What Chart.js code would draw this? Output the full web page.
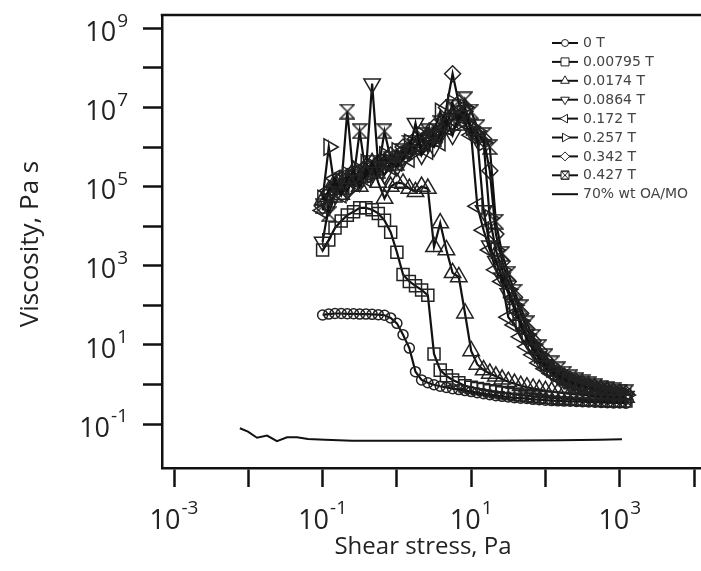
<!DOCTYPE html>
<html>
<head>
<meta charset="utf-8">
<script src="https://cdn.jsdelivr.net/npm/chart.js@4.4.1/dist/chart.umd.min.js"></script>
<style>
  html, body { margin: 0; padding: 0; background: #fff; overflow: hidden; }
  #parent__visc { position: relative; width: 701px; height: 571px; }
  #visc__chart { display: block; }
</style>
</head>
<body>
<div id="parent__visc"><canvas id="visc__chart"></canvas></div>
<script>
// shear stress (Pa) used by every field series
const stress = [0.1, 0.121, 0.147, 0.178, 0.215, 0.261, 0.316, 0.383, 0.464, 0.562,
  0.681, 0.825, 1.0, 1.21, 1.47, 1.78, 2.15, 2.61, 3.16, 3.83,
  4.64, 5.62, 6.81, 8.25, 10, 12.1, 14.7, 17.8, 21.5, 26.1,
  31.6, 38.3, 46.4, 56.2, 68.1, 82.5, 100, 121, 147, 178,
  215, 261, 316, 383, 464, 562, 681, 825, 1000, 1210]

// viscosity (Pa s) for each magnetic field
const visc0T = [57, 60, 62, 62, 61, 61, 60, 60, 59, 58,
  56, 48, 35, 18, 8.3, 2.1, 1.3, 1.1, 0.98, 0.9,
  0.84, 0.78, 0.74, 0.7, 0.66, 0.62, 0.58, 0.55, 0.52, 0.5,
  0.48, 0.46, 0.45, 0.44, 0.42, 0.41, 0.40, 0.39, 0.385, 0.38,
  0.375, 0.37, 0.365, 0.36, 0.355, 0.35, 0.345, 0.34, 0.34, 0.335]
const visc00795T = [2500, 4500, 9000, 13500, 19000, 23000, 29000, 29000, 26000, 21000,
  14000, 7000, 2200, 600, 400, 310, 245, 180, 5.9, 2.3,
  1.65, 1.3, 1.1, 0.92, 0.85, 0.79, 0.74, 0.69, 0.65, 0.62,
  0.59, 0.56, 0.54, 0.52, 0.50, 0.48, 0.47, 0.46, 0.45, 0.44,
  0.43, 0.42, 0.41, 0.405, 0.40, 0.395, 0.39, 0.385, 0.38, 0.38]
const visc0174T = [45000, 79000, 126000, 63000, 160000, 250000, 100000, 200000, 400000, 126000,
  50000, 100000, 126000, 120000, 89000, 74000, 100000, 89000, 3000, 12000,
  2500, 660, 520, 63, 7.0, 3.2, 2.3, 1.9, 1.6, 1.35,
  1.17, 1.05, 0.93, 0.85, 0.79, 0.74, 0.69, 0.66, 0.63, 0.60,
  0.575, 0.56, 0.54, 0.525, 0.51, 0.50, 0.49, 0.48, 0.47, 0.47]
const visc0864T = [4.0e3, 3.2e4, 6.3e4, 1.0e5, 7.9e4, 1.6e5, 1.3e5, 2.5e5, 4.0e7, 3.2e5,
  2.0e5, 4.0e5, 3.2e5, 5.0e5, 7.9e5, 4.0e6, 6.3e5, 1.3e6, 1.0e6, 2.0e6,
  5.0e6, 2.0e6, 6.3e6, 7.9e6, 2.5e6, 1.6e6, 2.5e4, 3.2e3, 1.3e3, 500,
  200, 79, 32, 14, 7.9, 4.5, 3.0, 2.1, 1.66, 1.35,
  1.15, 1.0, 0.89, 0.81, 0.74, 0.68, 0.63, 0.58, 0.54, 0.50]
const visc0172T = [2.5e4, 7.9e4, 1.6e5, 6.3e4, 2.0e5, 1.3e5, 2.5e5, 1.6e5, 3.2e5, 2.5e5,
  5.0e5, 3.2e5, 4.0e5, 7.9e5, 5.0e5, 1.0e6, 1.6e6, 7.9e5, 2.0e6, 1.3e6,
  3.2e6, 5.0e6, 6.3e6, 4.0e6, 2.0e6, 3.2e4, 7.9e3, 2.5e3, 790, 400,
  50, 32, 16, 8.9, 5.6, 3.5, 2.5, 1.9, 1.5, 1.26,
  1.07, 0.95, 0.85, 0.78, 0.71, 0.65, 0.60, 0.56, 0.52, 0.49]
const visc0257T = [5.0e4, 1.0e6, 7.9e4, 1.3e5, 2.0e5, 1.0e5, 2.5e5, 4.0e5, 2.0e5, 3.2e5,
  6.3e5, 4.0e5, 7.9e5, 5.0e5, 1.3e6, 7.9e5, 2.0e6, 1.3e6, 2.5e6, 7.9e6,
  3.2e6, 1.3e7, 4.0e6, 1.0e7, 3.2e6, 2.5e6, 1.3e6, 1.6e4, 2.5e3, 790,
  250, 100, 40, 18, 10, 5.6, 3.5, 2.5, 1.9, 1.5,
  1.26, 1.1, 0.98, 0.87, 0.79, 0.72, 0.66, 0.62, 0.58, 0.54]
const visc0342T = [3.2e4, 6.3e4, 1.0e5, 1.6e5, 7.9e4, 2.0e5, 1.6e5, 3.2e5, 2.5e5, 4.0e5,
  3.2e5, 6.3e5, 5.0e5, 1.0e6, 7.9e5, 1.6e6, 1.0e6, 2.0e6, 3.2e6, 2.5e6,
  1.0e7, 7.1e7, 1.3e7, 7.9e6, 3.2e6, 2.0e6, 1.6e6, 2.5e5, 6.3e3, 1.3e3,
  400, 160, 63, 25, 12.6, 7.1, 4.2, 2.8, 2.1, 1.66,
  1.35, 1.17, 1.05, 0.93, 0.85, 0.78, 0.71, 0.66, 0.62, 0.58]
const visc0427T = [3.2e4, 2.0e4, 6.3e4, 1.0e5, 7.9e6, 1.6e5, 2.5e6, 2.0e5, 4.0e5, 2.5e5,
  2.5e6, 5.0e5, 4.0e5, 7.9e5, 1.3e6, 1.0e6, 2.0e6, 2.5e6, 1.6e6, 4.0e6,
  3.2e6, 1.0e7, 4.0e6, 1.6e7, 7.9e6, 3.2e6, 2.0e6, 1.0e6, 1.3e4, 2.0e3,
  630, 220, 89, 35, 16, 8.9, 5.2, 3.4, 2.4, 1.86,
  1.5, 1.29, 1.12, 1.0, 0.91, 0.83, 0.76, 0.71, 0.66, 0.63]

// base fluid without particles
const oaStress = [0.0077, 0.0099, 0.0131, 0.0179, 0.0243, 0.0332, 0.0452, 0.0635, 0.108, 0.249, 1.1, 14.4, 157, 542, 1070]
const oaVisc = [0.078, 0.064, 0.045, 0.051, 0.037, 0.046, 0.046, 0.042, 0.040, 0.038, 0.038, 0.038, 0.039, 0.040, 0.041]

const seriesLabels = ["0 T", "0.00795 T", "0.0174 T", "0.0864 T", "0.172 T", "0.257 T", "0.342 T", "0.427 T"]
const oaLabel = "70% wt OA/MO"

// tick decades
const xTickExps = [-3, -2, -1, 0, 1, 2, 3, 4]
const xLabelExps = [-3, -1, 1, 3]
const yTickExps = [-1, 0, 1, 2, 3, 4, 5, 6, 7, 8, 9]
const yLabelExps = [9, 7, 5, 3, 1, -1]

const FONT = "Open Sans"
const INK = "#222"

// hourglass marker for 0.427 T
function makeHourglass(s, w) {
  const c = document.createElement("canvas")
  c.width = s + 2
  c.height = s + 2
  const g = c.getContext("2d")
  g.strokeStyle = INK
  g.lineWidth = w
  g.beginPath()
  g.moveTo(1, 1)
  g.lineTo(s + 1, 1)
  g.lineTo(1, s + 1)
  g.lineTo(s + 1, s + 1)
  g.closePath()
  g.stroke()
  return c
}
const hourglass = makeHourglass(14, 1.5)
const hourglassSmall = makeHourglass(8, 1)

const markers = [
  { style: "circle", rot: 0, r: 5 },
  { style: "rect", rot: 0, r: 8.5 },
  { style: "triangle", rot: 0, r: 9.5 },
  { style: "triangle", rot: 180, r: 9.5 },
  { style: "triangle", rot: 270, r: 9.5 },
  { style: "triangle", rot: 90, r: 9.5 },
  { style: "rectRot", rot: 0, r: 8 },
  { style: hourglass, rot: 0, r: 7 },
]

const seriesVisc = [visc0T, visc00795T, visc0174T, visc0864T, visc0172T, visc0257T, visc0342T, visc0427T]

const datasets = seriesVisc.map((vals, i) => ({
  label: seriesLabels[i],
  data: stress.map((x, j) => ({ x: x, y: vals[j] })),
  showLine: true,
  fill: false,
  borderColor: "#111",
  borderWidth: 2.2,
  pointStyle: markers[i].style,
  pointRotation: markers[i].rot,
  pointRadius: markers[i].r,
  pointBorderColor: INK,
  pointBorderWidth: 1.5,
  pointBackgroundColor: "rgba(0,0,0,0)",
}))
datasets.push({
  label: oaLabel,
  data: oaStress.map((x, j) => ({ x: x, y: oaVisc[j] })),
  showLine: true,
  fill: false,
  borderColor: "#111",
  borderWidth: 2,
  pointRadius: 0,
})

// legend marker, small version of the plot markers
function drawLegendMarker(ctx, i, x, y) {
  const m = markers[i]
  ctx.save()
  ctx.strokeStyle = INK
  ctx.fillStyle = "#fff"
  ctx.lineWidth = 1
  ctx.beginPath()
  if (m.style === "circle") {
    ctx.arc(x, y, 3.5, 0, Math.PI * 2)
  } else if (m.style === "rect") {
    ctx.rect(x - 4, y - 4, 8, 8)
  } else if (m.style === "triangle") {
    const r = 5
    let a = (m.rot * Math.PI) / 180
    for (let k = 0; k < 3; k++) {
      const px = x + Math.sin(a) * r
      const py = y - Math.cos(a) * r
      k === 0 ? ctx.moveTo(px, py) : ctx.lineTo(px, py)
      a += (2 * Math.PI) / 3
    }
    ctx.closePath()
  } else if (m.style === "rectRot") {
    ctx.moveTo(x - 4.5, y)
    ctx.lineTo(x, y - 4.5)
    ctx.lineTo(x + 4.5, y)
    ctx.lineTo(x, y + 4.5)
    ctx.closePath()
  } else {
    ctx.rect(x - 4, y - 4, 8, 8)
    ctx.fill()
    ctx.stroke()
    ctx.drawImage(hourglassSmall, x - 5, y - 5)
    ctx.restore()
    return
  }
  ctx.fill()
  ctx.stroke()
  ctx.restore()
}

function drawPower(ctx, e, x, y, mode) {
  const base = "27px '" + FONT + "'"
  const sup = "19px '" + FONT + "'"
  ctx.font = base
  const w10 = ctx.measureText("10").width
  ctx.font = sup
  const we = ctx.measureText(String(e)).width
  let start
  if (mode === "right") start = x - w10 - 1 - we
  else start = x - (w10 + 1 + we) / 2
  ctx.textAlign = "left"
  ctx.textBaseline = "middle"
  ctx.font = base
  ctx.fillText("10", start, y + 5)
  ctx.font = sup
  ctx.fillText(String(e), start + w10 + 1, y - 7)
}

const decorPlugin = {
  id: "decor",
  afterDraw(chart) {
    const { ctx, chartArea, scales } = chart
    ctx.save()
    // top frame
    ctx.strokeStyle = "#111"
    ctx.lineWidth = 2.5
    ctx.beginPath()
    ctx.moveTo(chartArea.left - 1.25, chartArea.top)
    ctx.lineTo(chartArea.right, chartArea.top)
    ctx.stroke()

    ctx.fillStyle = INK
    yLabelExps.forEach((e) => {
      drawPower(ctx, e, 128, scales.y.getPixelForValue(Math.pow(10, e)), "right")
    })
    xLabelExps.forEach((e) => {
      drawPower(ctx, e, scales.x.getPixelForValue(Math.pow(10, e)), 516, "center")
    })

    // axis titles
    ctx.textAlign = "center"
    ctx.textBaseline = "middle"
    ctx.font = "24px '" + FONT + "'"
    ctx.fillText("Shear stress, Pa", 423, 547)
    ctx.save()
    ctx.translate(31, 244)
    ctx.rotate(-Math.PI / 2)
    ctx.font = "26px '" + FONT + "'"
    ctx.fillText("Viscosity, Pa s", 0, 0)
    ctx.restore()

    // legend
    ctx.font = "14px 'DejaVu Sans'"
    ctx.textAlign = "left"
    const names = seriesLabels.concat([oaLabel])
    names.forEach((name, i) => {
      const ly = 43 + i * 18.9
      ctx.strokeStyle = "#111"
      ctx.lineWidth = 2
      ctx.beginPath()
      ctx.moveTo(552, ly)
      ctx.lineTo(578, ly)
      ctx.stroke()
      if (i < seriesLabels.length) drawLegendMarker(ctx, i, 565, ly)
      ctx.fillStyle = "#444"
      ctx.fillText(name, 583, ly + 0.5)
    })
    ctx.restore()
  },
}

function decadeTicks(exps) {
  return (scale) => {
    scale.ticks = exps.map((e) => ({ value: Math.pow(10, e) }))
  }
}

const axisStyle = {
  ticks: { display: false },
  grid: { drawOnChartArea: false, drawTicks: true, tickLength: 19, tickWidth: 2.5, color: "#111" },
  border: { display: true, width: 2.5, color: "#111" },
}

new Chart(document.getElementById("visc__chart"), {
  type: "scatter",
  data: { datasets: datasets },
  options: {
    responsive: true,
    maintainAspectRatio: false,
    animation: false,
    devicePixelRatio: 1,
    layout: { autoPadding: false, padding: { left: 143, top: 15, right: 0, bottom: 84 } },
    plugins: { legend: { display: false }, tooltip: { enabled: false } },
    scales: {
      x: Object.assign({
        type: "logarithmic",
        position: "bottom",
        min: 6.89e-4,
        max: 12400,
        afterBuildTicks: decadeTicks(xTickExps),
      }, axisStyle),
      y: Object.assign({
        type: "logarithmic",
        position: "left",
        min: 7.73e-3,
        max: 2.17e9,
        afterBuildTicks: decadeTicks(yTickExps),
      }, axisStyle),
    },
  },
  plugins: [decorPlugin],
})
</script>
</body>
</html>
